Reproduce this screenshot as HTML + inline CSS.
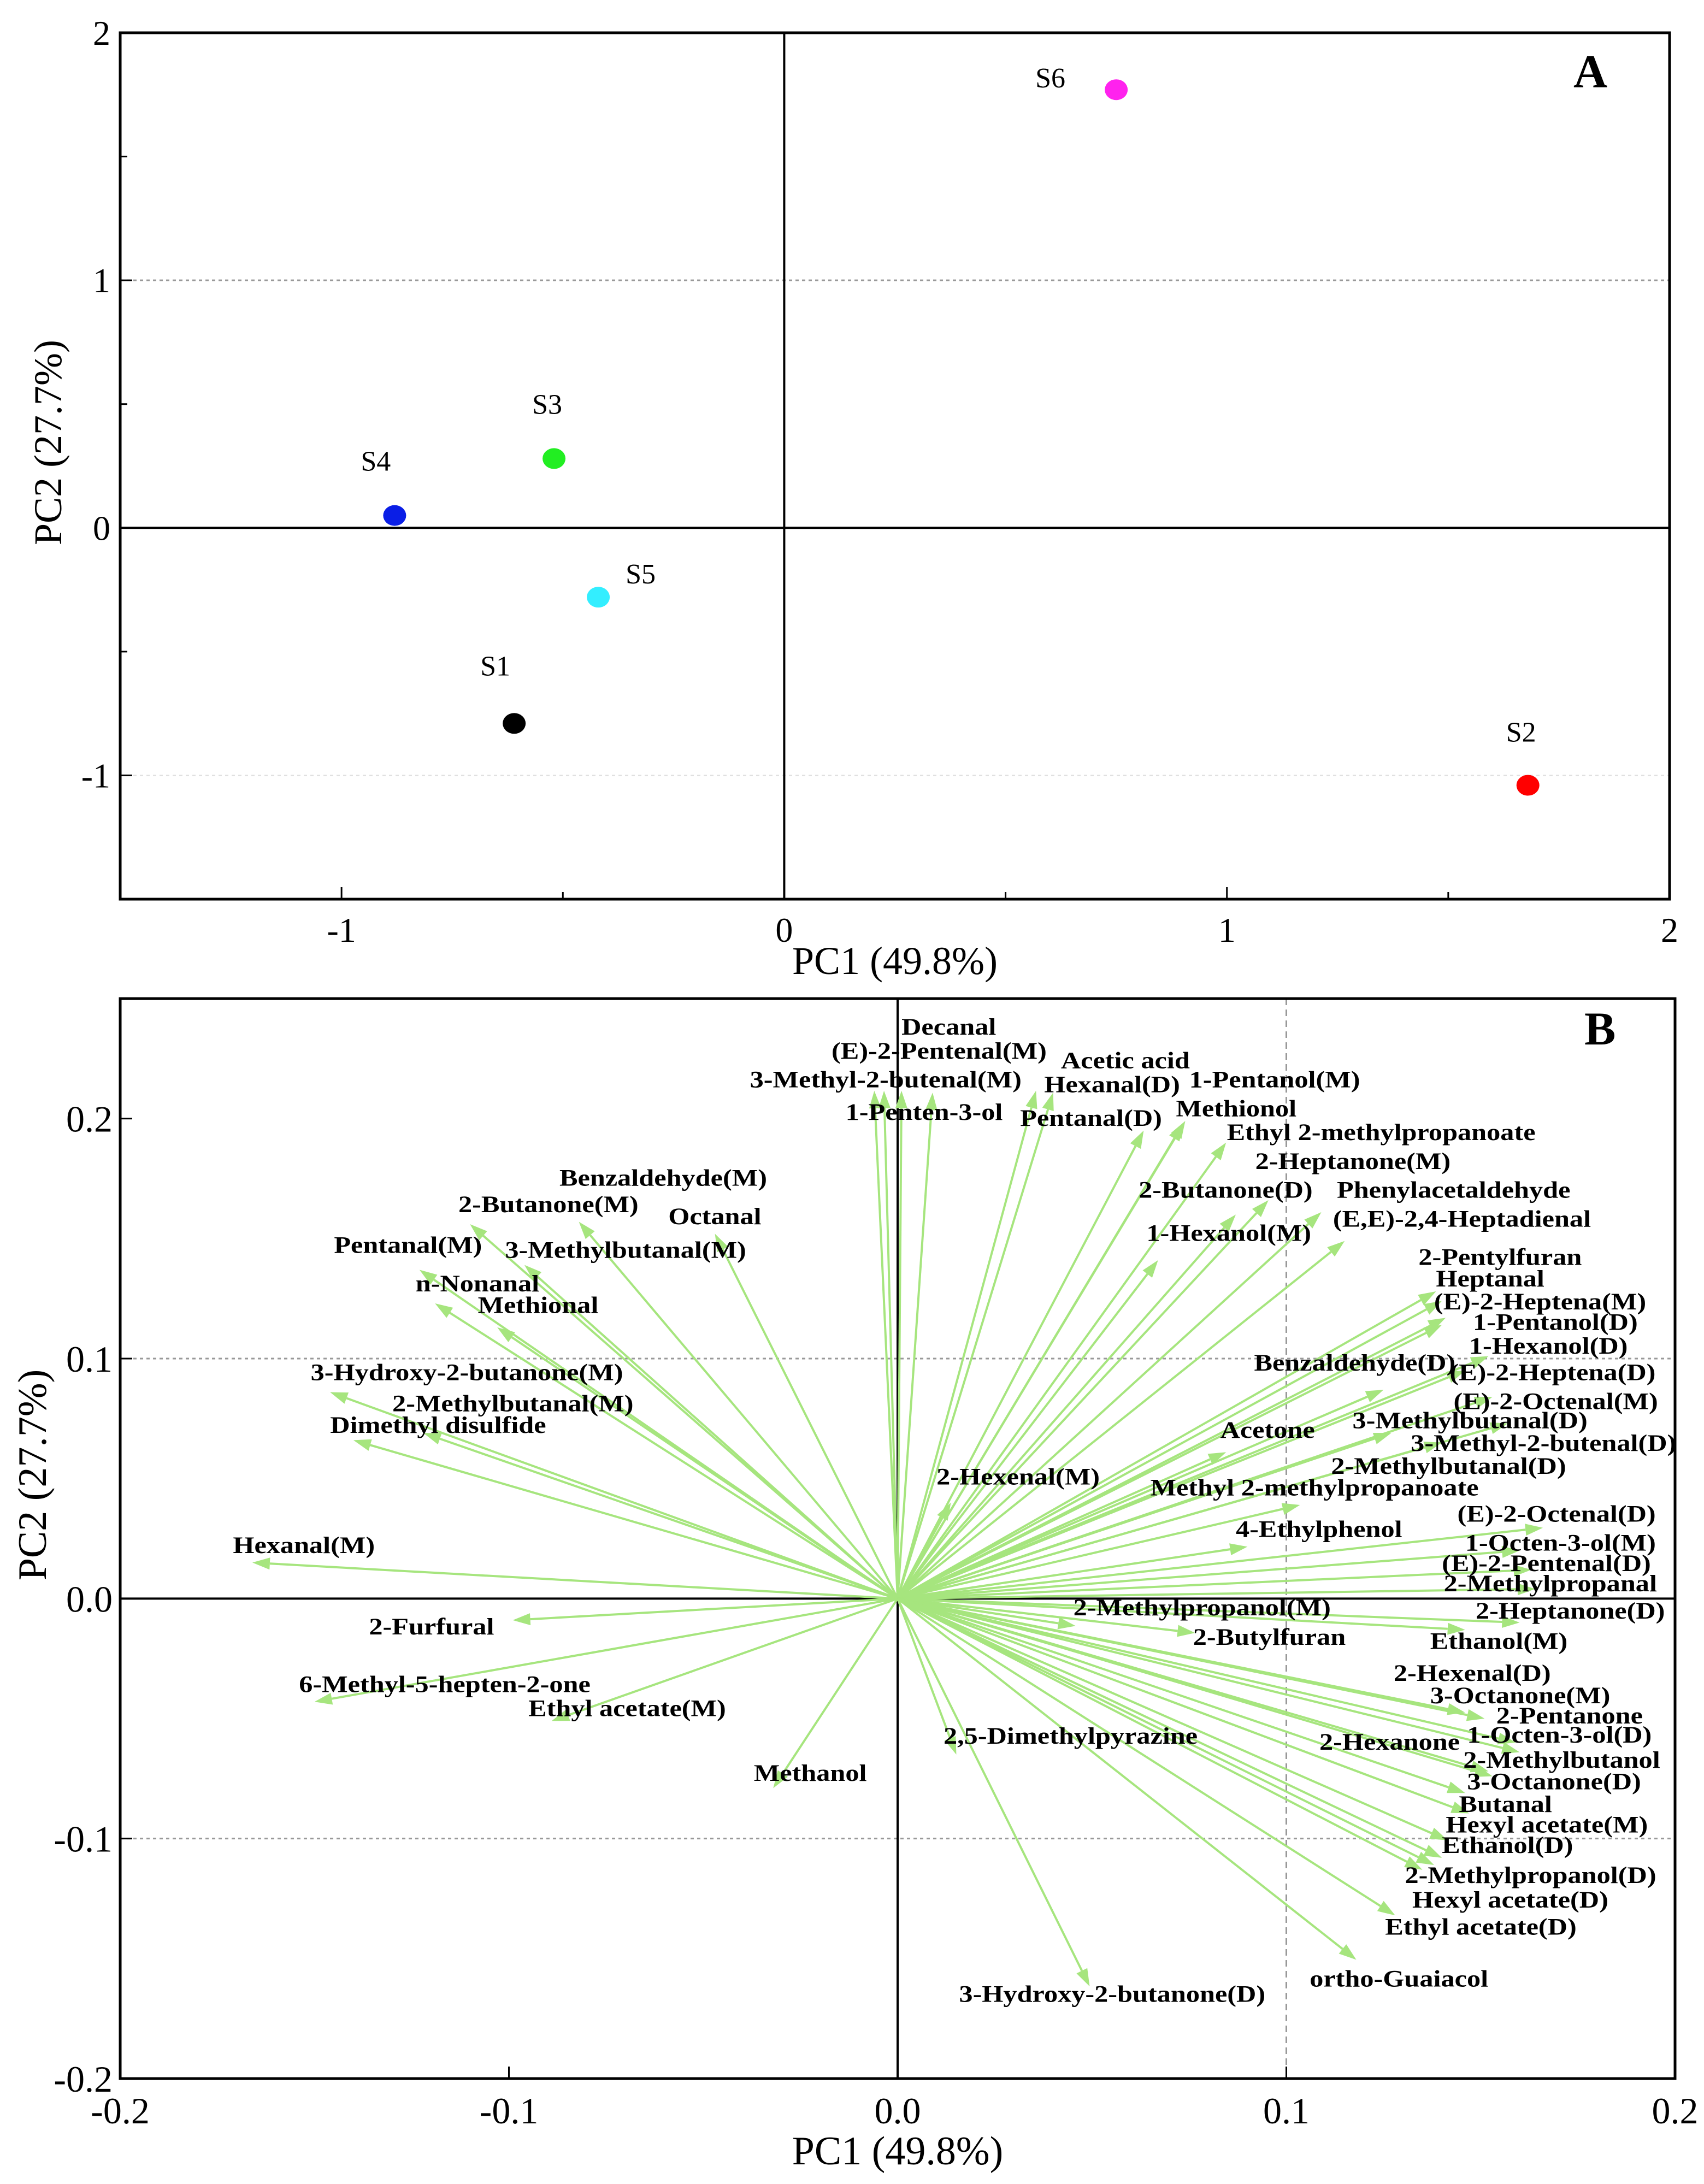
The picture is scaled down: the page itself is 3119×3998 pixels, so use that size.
<!DOCTYPE html>
<html><head><meta charset="utf-8"><style>html,body{margin:0;padding:0;background:#fff}svg{display:block}svg text{font-family:"Liberation Serif","Times New Roman",serif}</style></head>
<body>
<svg id="fig" xmlns="http://www.w3.org/2000/svg" width="3119" height="3998" viewBox="0 0 3119 3998">
<rect width="3119" height="3998" fill="#fff"/>
<g id="pa"></g>
<g id="pb"></g>
</svg>
<script>
// ---- Panel A data ----
const sampleNames = ["S1","S2","S3","S4","S5","S6"];
const samplePC1 = [-0.61, 1.68, -0.52, -0.88, -0.42, 0.75];
const samplePC2 = [-0.79, -1.04, 0.28, 0.05, -0.28, 1.77];
const sampleColors = ["#000000","#ff0000","#22ee22","#0a1ee6","#33eeff","#ff22ee"];
const aXTicks = [-1, 0, 1, 2];
const aXTickLabels = ["-1","0","1","2"];
const aYTicks = [-1, 0, 1, 2];
const aYTickLabels = ["-1","0","1","2"];

// ---- Panel B data ----
const varNames = ["Hexanal(M)","2-Furfural","6-Methyl-5-hepten-2-one","Ethyl acetate(M)","Methanol","Dimethyl disulfide","3-Hydroxy-2-butanone(M)","2-Methylbutanal(M)","Methional","n-Nonanal","Pentanal(M)","3-Methylbutanal(M)","2-Butanone(M)","Benzaldehyde(M)","Octanal","1-Penten-3-ol","3-Methyl-2-butenal(M)","(E)-2-Pentenal(M)","Decanal","Acetic acid","Hexanal(D)","Pentanal(D)","Methionol","1-Pentanol(M)","Ethyl 2-methylpropanoate","2-Heptanone(M)","2-Butanone(D)","1-Hexanol(M)","Phenylacetaldehyde","(E,E)-2,4-Heptadienal","2-Pentylfuran","Heptanal","(E)-2-Heptena(M)","1-Pentanol(D)","1-Hexanol(D)","(E)-2-Heptena(D)","Benzaldehyde(D)","(E)-2-Octenal(M)","3-Methylbutanal(D)","3-Methyl-2-butenal(D)","Acetone","2-Methylbutanal(D)","Methyl 2-methylpropanoate","2-Hexenal(M)","4-Ethylphenol","(E)-2-Octenal(D)","1-Octen-3-ol(M)","(E)-2-Pentenal(D)","2-Methylpropanal","2-Methylpropanol(M)","2-Butylfuran","2-Heptanone(D)","Ethanol(M)","2-Hexenal(D)","3-Octanone(M)","2-Pentanone","1-Octen-3-ol(D)","2-Hexanone","2-Methylbutanol","3-Octanone(D)","Butanal","Hexyl acetate(M)","Ethanol(D)","2-Methylpropanol(D)","Hexyl acetate(D)","Ethyl acetate(D)","ortho-Guaiacol","3-Hydroxy-2-butanone(D)","2,5-Dimethylpyrazine"];
const loadPC1 = [-0.166,-0.099,-0.150,-0.089,-0.032,-0.140,-0.146,-0.122,-0.103,-0.119,-0.123,-0.096,-0.110,-0.082,-0.047,-0.006,-0.0035,0.001,0.009,0.0356,0.040,0.0633,0.0735,0.074,0.0845,0.0954,0.087,0.067,0.109,0.115,0.1385,0.140,0.140,0.141,0.152,0.146,0.125,0.153,0.127,0.157,0.0845,0.140,0.1035,0.0137,0.090,0.166,0.160,0.163,0.164,0.0458,0.0765,0.160,0.146,0.146,0.151,0.159,0.160,0.152,0.153,0.146,0.147,0.1415,0.140,0.138,0.135,0.128,0.118,0.0494,0.0151];
const loadPC2 = [0.015,-0.009,-0.043,-0.051,-0.079,0.066,0.086,0.069,0.113,0.123,0.137,0.139,0.156,0.157,0.152,0.2116,0.2116,0.2116,0.2108,0.2116,0.2108,0.195,0.198,0.199,0.190,0.166,0.160,0.141,0.161,0.149,0.128,0.124,0.114,0.117,0.101,0.095,0.087,0.084,0.069,0.073,0.061,0.065,0.039,0.040,0.0216,0.0295,0.020,0.012,0.004,-0.0114,-0.0143,-0.010,-0.013,-0.0475,-0.050,-0.060,-0.064,-0.072,-0.074,-0.081,-0.0895,-0.1007,-0.108,-0.111,-0.113,-0.132,-0.1505,-0.1616,-0.065];
const labelPC1 = [-0.171,-0.136,-0.154,-0.095,-0.037,-0.146,-0.151,-0.130,-0.108,-0.124,-0.145,-0.101,-0.113,-0.087,-0.059,-0.0134,-0.038,-0.017,0.001,0.042,0.0377,0.0315,0.0716,0.075,0.0847,0.092,0.062,0.064,0.113,0.112,0.134,0.1385,0.138,0.148,0.147,0.142,0.0917,0.143,0.117,0.132,0.083,0.1115,0.065,0.010,0.087,0.144,0.146,0.140,0.1405,0.0452,0.076,0.1487,0.137,0.1276,0.137,0.154,0.1465,0.1085,0.1455,0.1465,0.1444,0.141,0.140,0.1305,0.1324,0.1254,0.106,0.0158,0.0118];
const labelPC2 = [0.019,-0.015,-0.039,-0.049,-0.076,0.069,0.091,0.078,0.119,0.128,0.144,0.142,0.161,0.172,0.156,0.1995,0.213,0.225,0.235,0.221,0.211,0.197,0.201,0.213,0.191,0.179,0.167,0.149,0.167,0.155,0.139,0.130,0.1205,0.112,0.102,0.091,0.095,0.079,0.071,0.0615,0.067,0.052,0.043,0.0475,0.0257,0.032,0.020,0.0114,0.003,-0.007,-0.0193,-0.0084,-0.021,-0.0343,-0.0436,-0.052,-0.060,-0.063,-0.0705,-0.0795,-0.0889,-0.0975,-0.106,-0.1185,-0.1287,-0.140,-0.1616,-0.168,-0.0605];
const bXTicks = [-0.2,-0.1,0,0.1,0.2];
const bXTickLabels = ["-0.2","-0.1","0.0","0.1","0.2"];
const bYTicks = [-0.2,-0.1,0,0.1,0.2];
const bYTickLabels = ["-0.2","-0.1","0.0","0.1","0.2"];

const NS = "http://www.w3.org/2000/svg";
function mk(parent, tag, attrs, text) {
  const e = document.createElementNS(NS, tag);
  for (const k in attrs) e.setAttribute(k, attrs[k]);
  if (text !== undefined) e.textContent = text;
  parent.appendChild(e);
  return e;
}

// ---------- Panel A ----------
const A = {l:220, r:3056, t:60, b:1646, x0:-1.5, x1:2, y0:-1.5, y1:2};
const ax = v => A.l + (v - A.x0) / (A.x1 - A.x0) * (A.r - A.l);
const ay = v => A.b - (v - A.y0) / (A.y1 - A.y0) * (A.b - A.t);
const pa = document.getElementById('pa');

let g1 = mk(pa, 'line', {x1:A.l, x2:A.r, y1:ay(1), y2:ay(1), stroke:'#999', 'stroke-width':3, 'stroke-dasharray':'6,6'});


let g2 = mk(pa, 'line', {x1:A.l, x2:A.r, y1:ay(-1), y2:ay(-1), stroke:'#ddd', 'stroke-width':2, 'stroke-dasharray':'6,6'});


let z1 = mk(pa, 'line', {x1:A.l, x2:A.r, y1:ay(0), y2:ay(0), stroke:'#000', 'stroke-width':4});


let z2 = mk(pa, 'line', {x1:ax(0), x2:ax(0), y1:A.t, y2:A.b, stroke:'#000', 'stroke-width':4});


let fa = mk(pa, 'rect', {x:A.l, y:A.t, width:A.r-A.l, height:A.b-A.t, fill:'none', stroke:'#000', 'stroke-width':5});


for (let v = -1.5; v <= 2.001; v += 0.5) {
  const major = Math.abs(v - Math.round(v)) < 1e-6;
  mk(pa, 'line', {x1:ax(v), x2:ax(v), y1:A.b, y2:A.b-(major?22:13), stroke:'#000', 'stroke-width':3});
  mk(pa, 'line', {x1:A.l, x2:A.l+(major?22:13), y1:ay(v), y2:ay(v), stroke:'#000', 'stroke-width':3});
}
aXTicks.forEach((v,i) => {
  const t = mk(pa, 'text', {x:ax(v), y:A.b+78, 'font-size':64, 'text-anchor':'middle'}, aXTickLabels[i]);
  
  
});
aYTicks.forEach((v,i) => {
  const t = mk(pa, 'text', {x:A.l-18, y:ay(v)+22, 'font-size':64, 'text-anchor':'end'}, aYTickLabels[i]);
  
  
});
let xta = mk(pa, 'text', {x:(A.l+A.r)/2, y:1783, 'font-size':72, 'text-anchor':'middle'}, 'PC1 (49.8%)');


let yta = mk(pa, 'text', {x:0, y:0, 'font-size':72, 'text-anchor':'middle', transform:'translate(112,810) rotate(-90)'}, 'PC2 (27.7%)');


let pla = mk(pa, 'text', {x:2880, y:160, 'font-size':86, 'font-weight':'bold'}, 'A');


const sLabelOff = {S1:[-62,-88], S2:[-40,-80], S3:[-40,-82], S4:[-62,-82], S5:[50,-25], S6:[-148,-4]};
sampleNames.forEach((n,i) => {
  const cx = ax(samplePC1[i]), cy = ay(samplePC2[i]);
  const c = mk(pa, 'ellipse', {cx:cx, cy:cy, rx:21, ry:19, fill:sampleColors[i]});
  
  
  const o = sLabelOff[n];
  const t = mk(pa, 'text', {x:cx+o[0], y:cy+o[1], 'font-size':52}, n);
  
  
});

// ---------- Panel B ----------
const B = {l:220, r:3066, t:1828, b:3805, x0:-0.2, x1:0.2, y0:-0.2, y1:0.25};
const bx = v => B.l + (v - B.x0) / (B.x1 - B.x0) * (B.r - B.l);
const by = v => B.b - (v - B.y0) / (B.y1 - B.y0) * (B.b - B.t);
const pb = document.getElementById('pb');
[0.1, -0.1].forEach(v => {
  const l = mk(pb, 'line', {x1:B.l, x2:B.r, y1:by(v), y2:by(v), stroke:'#999', 'stroke-width':3, 'stroke-dasharray':'6,6'});
  
  
});
let gvx = mk(pb, 'line', {x1:bx(0.1), x2:bx(0.1), y1:B.t, y2:B.b, stroke:'#999', 'stroke-width':3, 'stroke-dasharray':'12,8'});


let zb1 = mk(pb, 'line', {x1:B.l, x2:B.r, y1:by(0), y2:by(0), stroke:'#000', 'stroke-width':4});


let zb2 = mk(pb, 'line', {x1:bx(0), x2:bx(0), y1:B.t, y2:B.b, stroke:'#000', 'stroke-width':4});



const ox = bx(0), oy = by(0);
varNames.forEach((n,i) => {
  const tx = bx(loadPC1[i]), ty = by(loadPC2[i]);
  const dx = tx-ox, dy = ty-oy, L = Math.hypot(dx,dy), ux = dx/L, uy = dy/L;
  const hl = 32, hw = 11;
  const bxp = tx-ux*hl, byp = ty-uy*hl;
  const g = mk(pb, 'g', {});
  
  
  mk(g, 'line', {x1:ox, y1:oy, x2:bxp, y2:byp, stroke:'#a6e57e', 'stroke-width':4});
  mk(g, 'polygon', {points:`${tx},${ty} ${bxp-uy*hw},${byp+ux*hw} ${bxp+uy*hw},${byp-ux*hw}`, fill:'#a6e57e'});
});
varNames.forEach((n,i) => {
  const t = mk(pb, 'text', {x:0, y:0, 'font-size':43, 'font-weight':'bold', transform:`translate(${bx(labelPC1[i])},${by(labelPC2[i])}) scale(1.17,1)`}, n);
  
  
});
let fb = mk(pb, 'rect', {x:B.l, y:B.t, width:B.r-B.l, height:B.b-B.t, fill:'none', stroke:'#000', 'stroke-width':5});


bXTicks.forEach((v,i) => {
  mk(pb, 'line', {x1:bx(v), x2:bx(v), y1:B.b, y2:B.b-22, stroke:'#000', 'stroke-width':3});
  const t = mk(pb, 'text', {x:bx(v), y:B.b+82, 'font-size':68, 'text-anchor':'middle'}, bXTickLabels[i]);
  
  
});
bYTicks.forEach((v,i) => {
  mk(pb, 'line', {x1:B.l, x2:B.l+22, y1:by(v), y2:by(v), stroke:'#000', 'stroke-width':3});
  const t = mk(pb, 'text', {x:B.l-14, y:by(v)+24, 'font-size':68, 'text-anchor':'end'}, bYTickLabels[i]);
  
  
});
let xtb = mk(pb, 'text', {x:(B.l+B.r)/2, y:3962, 'font-size':74, 'text-anchor':'middle'}, 'PC1 (49.8%)');


let ytb = mk(pb, 'text', {x:0, y:0, 'font-size':74, 'text-anchor':'middle', transform:'translate(84,2700) rotate(-90)'}, 'PC2 (27.7%)');


let plb = mk(pb, 'text', {x:2900, y:1912, 'font-size':86, 'font-weight':'bold'}, 'B');


</script>
</body></html>
